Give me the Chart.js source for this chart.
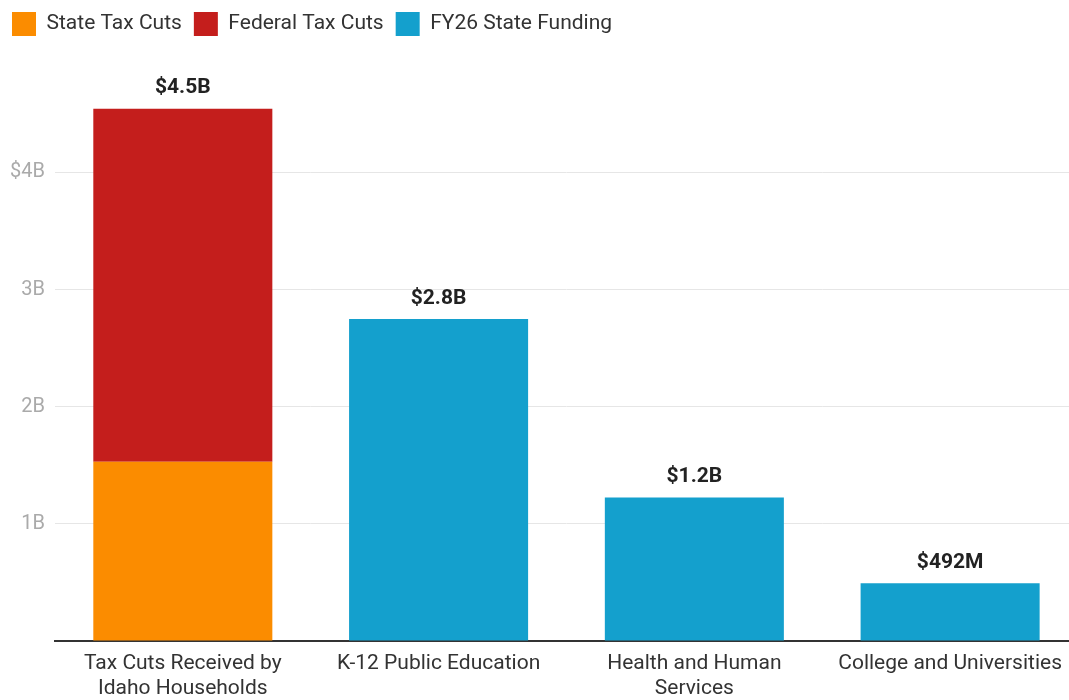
<!DOCTYPE html>
<html>
<head>
<meta charset="utf-8">
<script src="https://cdn.jsdelivr.net/npm/chart.js@4"></script>
<style>
  html, body { margin: 0; padding: 0; background: #fff; overflow: hidden; }
  #wrap { width: 1078px; height: 700px; }
</style>
</head>
<body>
<div id="wrap"><canvas id="myChart"></canvas></div>
<script>
// categories and values (billions)
var categories = [
  ["Tax Cuts Received by", "Idaho Households"],
  "K-12 Public Education",
  ["Health and Human", "Services"],
  "College and Universities"
];
var stateTaxCuts = [1.53, null, null, null];
var federalTaxCuts = [3.015, null, null, null];
var stateFunding = [null, 2.75, 1.225, 0.492];
var totalLabels = ["$4.5B", "$2.8B", "$1.2B", "$492M"];

// draws the total above each stacked bar
var totalsPlugin = {
  id: 'totals',
  afterDatasetsDraw: function (chart) {
    var ctx = chart.ctx;
    var yScale = chart.scales.y;
    var xScale = chart.scales.x;
    ctx.save();
    ctx.font = 'bold 21px Roboto';
    ctx.fillStyle = '#222';
    ctx.textAlign = 'center';
    ctx.textBaseline = 'bottom';
    for (var i = 0; i < categories.length; i++) {
      var total = (stateTaxCuts[i] || 0) + (federalTaxCuts[i] || 0) + (stateFunding[i] || 0);
      var x = xScale.getPixelForValue(i);
      var y = yScale.getPixelForValue(total);
      ctx.fillText(totalLabels[i], x, y - 10);
    }
    ctx.restore();
  }
};

Chart.defaults.font.family = 'Roboto';
Chart.defaults.font.size = 21;
Chart.defaults.color = '#333';

var ctx = document.getElementById('myChart').getContext('2d');
var myChart = new Chart(ctx, {
  type: 'bar',
  data: {
    labels: categories,
    datasets: [
      {
        label: 'State Tax Cuts',
        data: stateTaxCuts,
        backgroundColor: '#fb8c00',
        borderWidth: 0
      },
      {
        label: 'Federal Tax Cuts',
        data: federalTaxCuts,
        backgroundColor: '#c41e1c',
        borderWidth: 0
      },
      {
        label: 'FY26 State Funding',
        data: stateFunding,
        backgroundColor: '#14a0cd',
        borderWidth: 0
      }
    ]
  },
  options: {
    responsive: true,
    maintainAspectRatio: false,
    animation: false,
    layout: { padding: { left: 0, right: 0, top: 0, bottom: 0 } },
    plugins: {
      legend: {
        position: 'top',
        align: 'start',
        labels: {
          boxWidth: 24,
          boxHeight: 24,
          padding: 12,
          color: '#333',
          font: { size: 21 }
        }
      },
      tooltip: { enabled: false }
    },
    datasets: {
      bar: { barPercentage: 0.7, categoryPercentage: 1.0 }
    },
    scales: {
      x: {
        stacked: true,
        afterFit: function (scale) { scale.height = 59; },
        grid: { display: false, drawTicks: false },
        border: { color: '#333', width: 2 },
        ticks: { color: '#333', padding: 10, maxRotation: 0, autoSkip: false }
      },
      y: {
        stacked: true,
        min: 0,
        max: 5.08,
        afterBuildTicks: function (scale) {
          scale.ticks = scale.ticks.filter(function (t) { return Number.isInteger(t.value) && t.value <= 4; });
        },
        ticks: {
          stepSize: 1,
          color: '#aaa',
          padding: 10,
          font: { size: 20 },
          callback: function (value) {
            if (value === 0) return '';
            if (value === 4) return '$4B';
            return value + 'B';
          }
        },
        grid: { color: '#e6e6e6', drawTicks: false },
        border: { display: false }
      }
    }
  },
  plugins: [totalsPlugin]
});
</script>
</body>
</html>
